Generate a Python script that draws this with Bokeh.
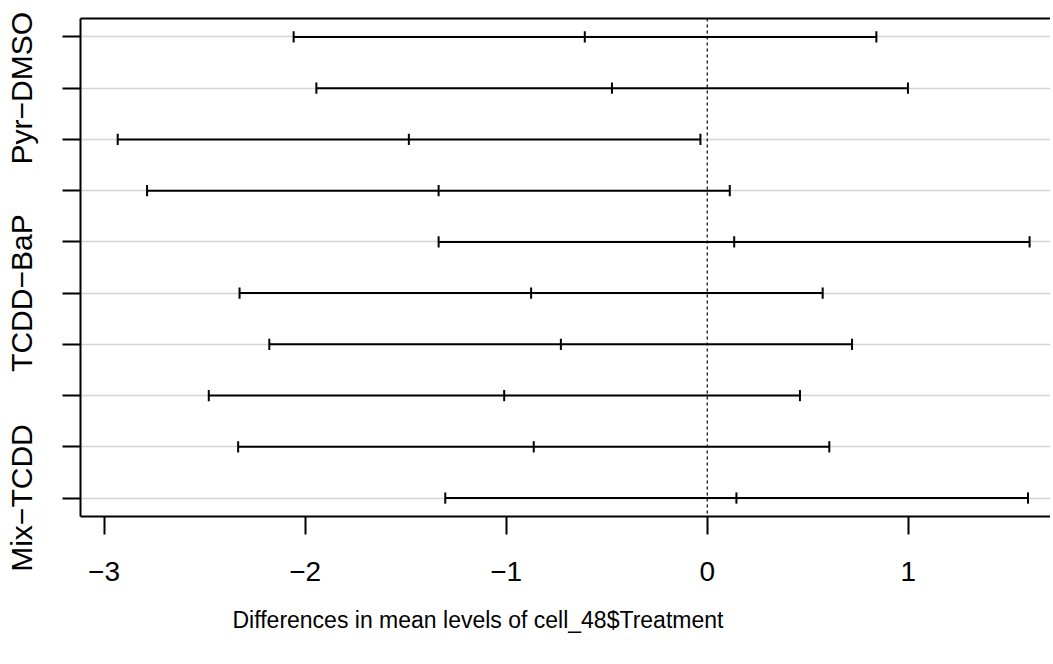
from bokeh.plotting import figure
from bokeh.models import Range1d, FixedTicker, LinearAxis, Span, ColumnDataSource, Title
from bokeh.embed import file_html
from bokeh.resources import INLINE

# Tukey HSD comparisons, top to bottom
comparisons = ["BaP−DMSO", "Pyr−DMSO", "TCDD−DMSO", "Mix−DMSO", "Pyr−BaP",
               "TCDD−BaP", "Mix−BaP", "TCDD−Pyr", "Mix−Pyr", "Mix−TCDD"]
diff = [-0.609, -0.474, -1.484, -1.336, 0.134, -0.876, -0.728, -1.010, -0.863, 0.145]
lwr = [-2.057, -1.944, -2.932, -2.786, -1.336, -2.326, -2.178, -2.479, -2.333, -1.303]
upr = [0.841, 0.998, -0.034, 0.112, 1.603, 0.574, 0.720, 0.461, 0.607, 1.595]
x_ticks = [-3, -2, -1, 0, 1]
x_title = "Differences in mean levels of cell_48$Treatment"

n = len(comparisons)
yvals = list(range(n, 0, -1))
tick_h = 0.11

src = ColumnDataSource(dict(y=yvals, lwr=lwr, upr=upr, diff=diff,
                            y0=[v - tick_h for v in yvals],
                            y1=[v + tick_h for v in yvals]))

FONT = "Liberation Sans"

p = figure(width=1050, height=660, output_backend="svg", toolbar_location=None,
           x_range=Range1d(-3.117, 1.707), y_range=Range1d(0.64, n + 0.36),
           min_border_left=80, min_border_right=0, min_border_top=18,
           min_border_bottom=144)
p.outline_line_color = None
p.background_fill_color = "white"

# grid
p.xgrid.visible = False
p.ygrid.ticker = FixedTicker(ticks=yvals)
p.ygrid.grid_line_color = "#d3d3d3"
p.ygrid.grid_line_width = 1.5

# zero line
p.add_layout(Span(location=0, dimension="height", line_color="black",
                  line_width=1.2, line_dash="3 3"))

# intervals
p.segment(x0="lwr", y0="y", x1="upr", y1="y", source=src, line_color="black", line_width=2)
for col in ["lwr", "diff", "upr"]:
    p.segment(x0=col, y0="y0", x1=col, y1="y1", source=src, line_color="black", line_width=2)

# x axis
xa = p.xaxis[0]
xa.ticker = FixedTicker(ticks=x_ticks)
xa.major_label_overrides = {t: (str(t).replace("-", "−")) for t in x_ticks}
xa.minor_tick_line_color = None
xa.major_tick_out = 18
xa.major_tick_in = 0
xa.major_tick_line_width = 2
xa.axis_line_width = 2
xa.major_label_text_font = FONT
xa.major_label_text_font_size = "28px"
xa.major_label_text_color = "black"
xa.major_label_standoff = 27

# x axis title, placed as in the reference
p.add_layout(Title(text=x_title, align="left", offset=152, standoff=42,
                   text_font=FONT, text_font_size="23px",
                   text_font_style="normal", text_color="black"), "below")

# y axis
ya = p.yaxis[0]
ya.ticker = FixedTicker(ticks=yvals)
ya.major_label_overrides = {yv: (comparisons[i] if i % 4 == 1 else "")
                            for i, yv in enumerate(yvals)}
ya.minor_tick_line_color = None
ya.major_tick_out = 18
ya.major_tick_in = 0
ya.major_tick_line_width = 2
ya.axis_line_width = 2
ya.major_label_orientation = "vertical"
ya.major_label_text_font = FONT
ya.major_label_text_font_size = "30px"
ya.major_label_text_color = "black"
ya.major_label_standoff = 24

# top border line
top = LinearAxis(ticker=FixedTicker(ticks=[]), axis_line_width=2,
                 major_tick_out=0, major_tick_in=0, minor_tick_out=0, minor_tick_in=0,
                 major_label_text_font_size="0px", major_label_standoff=0)
p.add_layout(top, "above")

open("out.html", "w").write(file_html(p, INLINE))
